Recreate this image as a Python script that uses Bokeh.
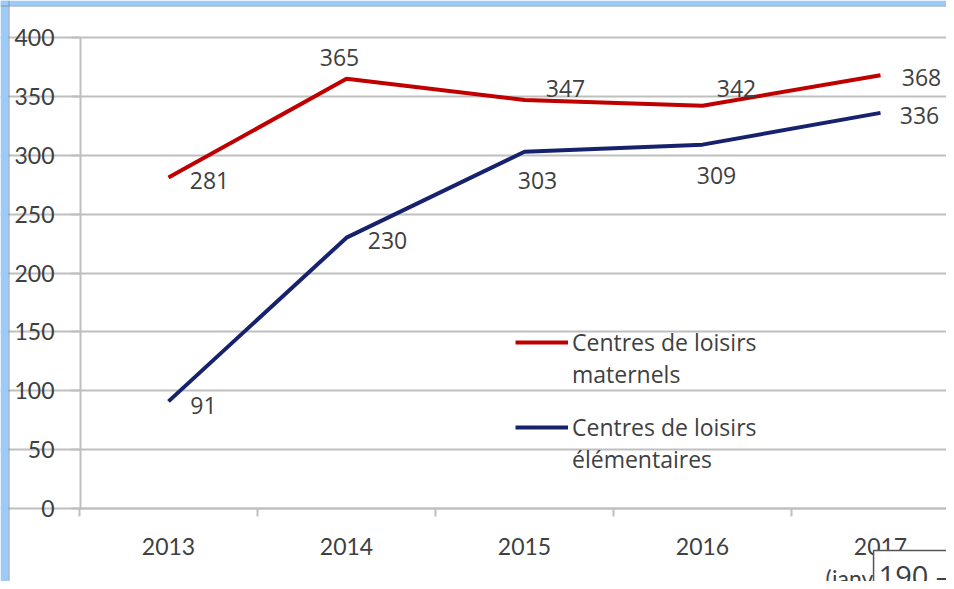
from bokeh.plotting import figure
from bokeh.models import FixedTicker, Legend, LegendItem, Label, Range1d, ColumnDataSource, BoxAnnotation, Span
from bokeh.core.properties import value
from bokeh.embed import file_html
from bokeh.resources import INLINE

years = ["2013", "2014", "2015", "2016", "2017"]
maternels = [281, 365, 347, 342, 368]
elementaires = [91, 230, 303, 309, 336]
y_ticks = [0, 50, 100, 150, 200, 250, 300, 350, 400]
legend_lines_red = ["Centres de loisirs", "maternels"]
legend_lines_blue = ["Centres de loisirs", "élémentaires"]
x_note = "(janvier)"
box_text = "190  \u2013"

# label offsets (screen px) - styling only
red_dx = [41, -7, 41, 34, 41]
red_dy = [3, -21, -11, -17, 2]
blue_dx = [35, 41, 13, 14, 39]
blue_dy = [4, 3, 29, 31, 3]

RED = "#C00000"
BLUE = "#17226E"
GRID = "#BFBFBF"
TXT = "#404040"
FRAME_BLUE = "#9CCBF9"
FRAME_EDGE = "#8096AE"

# layout (pixels -> data scale)
W, H = 946, 581
PX_X = 178.0            # px per category
PX_Y = 471.0 / 400.0    # px per unit
X0_PX, Y400_PX = 168, 37
x_start = -X0_PX / PX_X
x_end = (W - X0_PX) / PX_X
y_top = y_ticks[-1] + Y400_PX / PX_Y
y_bottom = -(H - (Y400_PX + 471)) / PX_Y
axis_x = x_start + 80 / PX_X

xs = list(range(len(years)))

p = figure(width=W, height=H, output_backend="svg", toolbar_location=None,
           x_range=Range1d(x_start, x_end), y_range=Range1d(y_bottom, y_top),
           min_border=0)
p.outline_line_color = None
p.background_fill_color = "white"
p.border_fill_color = "white"

# axes
p.yaxis.fixed_location = axis_x
p.yaxis.ticker = FixedTicker(ticks=y_ticks)
p.yaxis.bounds = (y_ticks[0], y_ticks[-1])
p.yaxis.axis_line_color = GRID
p.yaxis.axis_line_width = 2
p.yaxis.major_tick_line_color = GRID
p.yaxis.major_tick_line_width = 2
p.yaxis.major_tick_out = 9
p.yaxis.major_tick_in = 0
p.yaxis.minor_tick_line_color = None
p.yaxis.major_label_standoff = 17
p.yaxis.major_label_text_font = "Lato"
p.yaxis.major_label_text_font_size = "23px"
p.yaxis.major_label_text_color = TXT

p.xaxis.fixed_location = y_ticks[0]
p.xaxis.bounds = (axis_x, x_end)
p.xaxis.ticker = FixedTicker(ticks=xs, minor_ticks=[i - 0.5 for i in xs] + [xs[-1] + 0.5])
p.xaxis.major_label_overrides = {i: y for i, y in enumerate(years)}
p.xaxis.axis_line_color = GRID
p.xaxis.axis_line_width = 2
p.xaxis.major_tick_line_color = None
p.xaxis.major_tick_out = 0
p.xaxis.major_tick_in = 0
p.xaxis.minor_tick_line_color = GRID
p.xaxis.minor_tick_line_width = 2
p.xaxis.minor_tick_out = 8
p.xaxis.minor_tick_in = 0
p.xaxis.major_label_standoff = 21
p.xaxis.major_label_text_font = "Lato"
p.xaxis.major_label_text_font_size = "23px"
p.xaxis.major_label_text_color = TXT

p.xgrid.visible = False
p.ygrid.ticker = FixedTicker(ticks=y_ticks)
p.ygrid.bounds = (axis_x, x_end)
p.ygrid.grid_line_color = GRID
p.ygrid.grid_line_width = 2

# window frame decoration (light blue bands at top/left)
p.add_layout(BoxAnnotation(right=x_start + 8 / PX_X, fill_color=FRAME_BLUE, fill_alpha=1, line_color=None))
p.add_layout(BoxAnnotation(bottom=y_top - 5 / PX_Y, fill_color=FRAME_BLUE, fill_alpha=1, line_color=None))
p.add_layout(Span(location=x_start + 8.5 / PX_X, dimension="height", line_color=FRAME_EDGE, line_width=1))
p.add_layout(Span(location=y_top - 5.5 / PX_Y, dimension="width", line_color=FRAME_EDGE, line_width=1))

src = ColumnDataSource(dict(x=xs, m=maternels, e=elementaires,
                            ml=[str(v) for v in maternels], el=[str(v) for v in elementaires],
                            rdx=red_dx, rdy=red_dy, bdx=blue_dx, bdy=blue_dy))

r_red = p.line("x", "m", source=src, line_color=RED, line_width=4)
r_blue = p.line("x", "e", source=src, line_color=BLUE, line_width=4)

for yk, lk, dxk, dyk in (("m", "ml", "rdx", "rdy"), ("e", "el", "bdx", "bdy")):
    p.text("x", yk, text=lk, source=src, x_offset=dxk, y_offset=dyk,
           text_align="center", text_baseline="middle",
           text_font=value("Open Sans"), text_font_size="23px", text_color=TXT)

def make_legend(lines, renderer, loc):
    return Legend(items=[LegendItem(label=value(lines[0]), renderers=[renderer]),
                         LegendItem(label=value(lines[1]), renderers=[])],
                  location=loc, padding=0, margin=0, spacing=-1,
                  border_line_color=None, background_fill_alpha=0,
                  glyph_width=53, glyph_height=20, label_height=20, label_standoff=4,
                  label_text_font="Open Sans", label_text_font_size="23px",
                  label_text_color=TXT)

p.add_layout(make_legend(legend_lines_red, r_red, (515, 191)))
p.add_layout(make_legend(legend_lines_blue, r_blue, (515, 106)))

note = Label(x=xs[-1], y=-58.6, text=x_note, text_align="left", text_baseline="middle",
             x_offset=-55, text_font="Lato", text_font_size="23px", text_color=TXT)
p.add_layout(note)

box = Label(x=3.961, y=-35.7, text=box_text, anchor="top_left", padding=5,
            background_fill_color="white", border_line_color="#555555", border_line_width=1.5,
            text_font="Open Sans", text_font_size="29px", text_color=TXT)
p.add_layout(box)

open("out.html", "w").write(file_html(p, INLINE))
